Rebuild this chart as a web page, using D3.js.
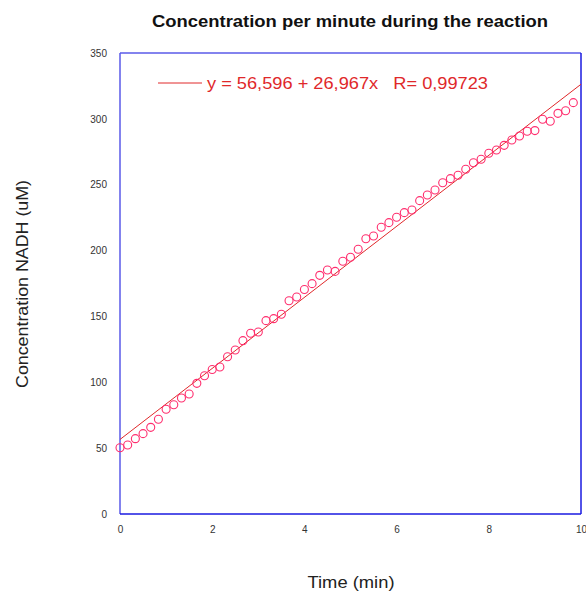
<!DOCTYPE html>
<html><head><meta charset="utf-8">
<script src="https://cdn.jsdelivr.net/npm/d3@7"></script>
<style>body{margin:0;background:#fff}svg{display:block;font-family:"Liberation Sans",Arial,sans-serif}</style>
</head><body>
<svg id="c" width="586" height="591"></svg>
<script>
const titleText = "Concentration per minute during the reaction";
const xLabel = "Time (min)";
const yLabel = "Concentration NADH (uM)";
const legendText = "y = 56,596 + 26,967x   R= 0,99723";
const xTicks = [0, 2, 4, 6, 8, 10];
const yTicks = [0, 50, 100, 150, 200, 250, 300, 350];
const timeMin = [0,0.1667,0.3333,0.5,0.6667,0.8333,1,1.1667,1.3333,1.5,1.6667,1.8333,2,2.1667,2.3333,2.5,2.6667,2.8333,3,3.1667,3.3333,3.5,3.6667,3.8333,4,4.1667,4.3333,4.5,4.6667,4.8333,5,5.1667,5.3333,5.5,5.6667,5.8333,6,6.1667,6.3333,6.5,6.6667,6.8333,7,7.1667,7.3333,7.5,7.6667,7.8333,8,8.1667,8.3333,8.5,8.6667,8.8333,9,9.1667,9.3333,9.5,9.6667,9.8333];
const nadh = [50.3,52.4,57.2,61.0,65.8,71.9,79.5,83.0,88.1,91.1,99.2,105.0,109.7,111.6,119.4,124.5,131.6,137.2,138.2,146.8,148.3,151.6,161.9,164.8,170.5,174.9,181.2,185.2,184.2,191.9,194.9,201.0,209.0,211.1,217.7,221.2,225.3,228.8,230.8,237.9,242.2,246.0,251.5,254.6,257.2,261.7,266.7,269.3,273.9,276.4,279.9,284.0,287.0,290.6,291.1,299.7,298.2,304.2,306.2,312.3];
const fitIntercept = 56.596, fitSlope = 26.967;
const xDomain = [0, 10], yDomain = [0, 350];

const svg = d3.select("#c");
const L = 120, R = 581, T = 53, B = 514;
const x = d3.scaleLinear().domain(xDomain).range([L, R]);
const y = d3.scaleLinear().domain(yDomain).range([B, T]);

svg.append("text").attr("x", 350).attr("y", 27).attr("text-anchor", "middle")
  .attr("font-weight", "bold").attr("font-size", 16.5).attr("fill", "#111")
  .attr("textLength", 396).attr("lengthAdjust", "spacingAndGlyphs").text(titleText);

// axes (labels only)
const xa = svg.append("g").attr("transform", `translate(0,${B})`)
  .call(d3.axisBottom(x).tickValues(xTicks).tickSize(0).tickPadding(12).tickFormat(d3.format("d")));
const ya = svg.append("g").attr("transform", `translate(${L},0)`)
  .call(d3.axisLeft(y).tickValues(yTicks).tickSize(0).tickPadding(13).tickFormat(d3.format("d")));
[xa, ya].forEach(g => {
  g.select(".domain").remove();
  g.selectAll("text").attr("font-size", 10).attr("fill", "#333").attr("font-family", "Liberation Sans, Arial, sans-serif");
});

// frame
svg.append("line").attr("x1", L).attr("x2", L).attr("y1", T).attr("y2", B).attr("stroke", "#5a5ae8").attr("stroke-width", 1.5);
svg.append("line").attr("x1", L).attr("x2", R).attr("y1", T).attr("y2", T).attr("stroke", "#5a5ae8").attr("stroke-width", 1.5);
svg.append("line").attr("x1", R).attr("x2", R).attr("y1", T).attr("y2", B).attr("stroke", "#1a1ae0").attr("stroke-width", 1.5);
svg.append("line").attr("x1", L).attr("x2", R).attr("y1", B).attr("y2", B).attr("stroke", "#1a1ae0").attr("stroke-width", 1.5);

// fit line
svg.append("line")
  .attr("x1", x(xDomain[0])).attr("y1", y(fitIntercept + fitSlope * xDomain[0]))
  .attr("x2", x(xDomain[1])).attr("y2", y(fitIntercept + fitSlope * xDomain[1]))
  .attr("stroke", "#e0282a").attr("stroke-width", 1);

// points
svg.append("g").selectAll("circle").data(timeMin).join("circle")
  .attr("cx", d => x(d)).attr("cy", (d, i) => y(nadh[i])).attr("r", 4)
  .attr("fill", "none").attr("stroke", "#ff2e6e").attr("stroke-width", 1.1);

// legend
svg.append("line").attr("x1", 158).attr("x2", 202).attr("y1", 83).attr("y2", 83)
  .attr("stroke", "#e0282a").attr("stroke-width", 1);
svg.append("text").attr("x", 207).attr("y", 89).attr("font-size", 17).attr("fill", "#e0282a")
  .attr("xml:space", "preserve").attr("textLength", 281).attr("lengthAdjust", "spacingAndGlyphs").text(legendText);

// axis titles
svg.append("text").attr("x", 351).attr("y", 588).attr("text-anchor", "middle")
  .attr("font-size", 17).attr("fill", "#222")
  .attr("textLength", 87).attr("lengthAdjust", "spacingAndGlyphs").text(xLabel);
svg.append("text").attr("transform", "translate(28,284) rotate(-90)").attr("text-anchor", "middle")
  .attr("font-size", 17).attr("fill", "#222")
  .attr("textLength", 208).attr("lengthAdjust", "spacingAndGlyphs").text(yLabel);
</script>
</body></html>
